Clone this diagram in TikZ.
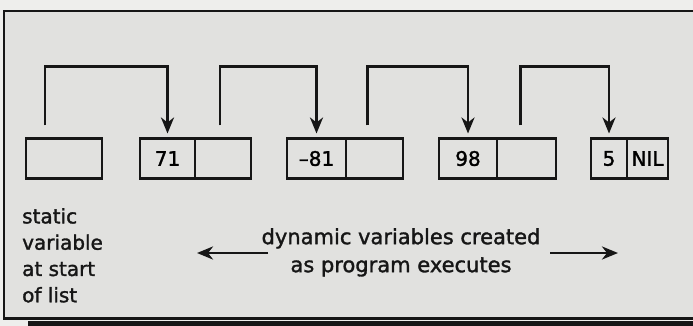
\documentclass[tikz,border=0pt]{standalone}
\usepackage{fontspec}
\setmainfont{DejaVu Sans}[FakeBold=1.5]
\usetikzlibrary{arrows.meta}
\definecolor{paper}{RGB}{238,238,236}
\definecolor{panel}{RGB}{225,225,223}
\definecolor{ink}{RGB}{22,22,22}
\tikzset{
  cell/.style={draw=ink, line width=2.2pt, minimum height=40pt, inner sep=0pt, outer sep=0pt,
    font=\fontsize{20}{20}\selectfont},
  link/.style={draw=ink, line width=2.8pt, -{Stealth[length=16pt,width=13pt,inset=5pt]}},
  txt/.style={inner sep=0pt, text=ink},
}

\begin{document}
\begin{tikzpicture}[x=1pt,y=-1pt]
        \useasboundingbox (0,0) rectangle (693,326);
        \fill[paper] (0,0) rectangle (693,326);
        \fill[ink] (28,320.5) rectangle (700,330);
        \draw[ink, line width=2.5pt, fill=panel] (4,11) rectangle (700,318.5);

        \node[cell, minimum width=76pt] (s0) at (64,158.5) {};
        \node[cell, minimum width=55pt] (v71) at (167.5,158.5) {71};
        \node[cell, minimum width=56pt, anchor=west] (p71) at (v71.east) {};
        \node[cell, minimum width=59pt] (v81) at (316.5,158.5) {–81};
        \node[cell, minimum width=57pt, anchor=west] (p81) at (v81.east) {};
        \node[cell, minimum width=58pt] (v98) at (468,158.5) {98};
        \node[cell, minimum width=59pt, anchor=west] (p98) at (v98.east) {};
        \node[cell, minimum width=36pt] (v5) at (609,158.5) {5};
        \node[cell, minimum width=41pt, anchor=west] (p5) at (v5.east) {NIL};

        \foreach \a/\b/\dx in {s0/v71/-19, p71/v81/-3, p81/v98/-7, p98/v5/-6} {
            \draw[link] ([xshift=\dx pt, yshift=13pt]\a.north) -- ++(0,-59) -| ([yshift=5pt]\b.north);
        }

        \node[txt, anchor=north west, align=left, font=\fontsize{20}{26.3}\selectfont] (static)
            at (22,208) {static\\variable\\at start\\of list};
        \node[txt, anchor=north, align=center, font=\fontsize{21}{28}\selectfont] (dyn)
            at (401,228) {dynamic variables created\\as program executes};

        \coordinate (lfrom) at (268,253);
        \coordinate (lto) at (197,253);
        \coordinate (rfrom) at (550,253);
        \coordinate (rto) at (618,253);
        \draw[link] (lfrom) -- (lto);
        \draw[link] (rfrom) -- (rto);
    \end{tikzpicture}
\end{document}
